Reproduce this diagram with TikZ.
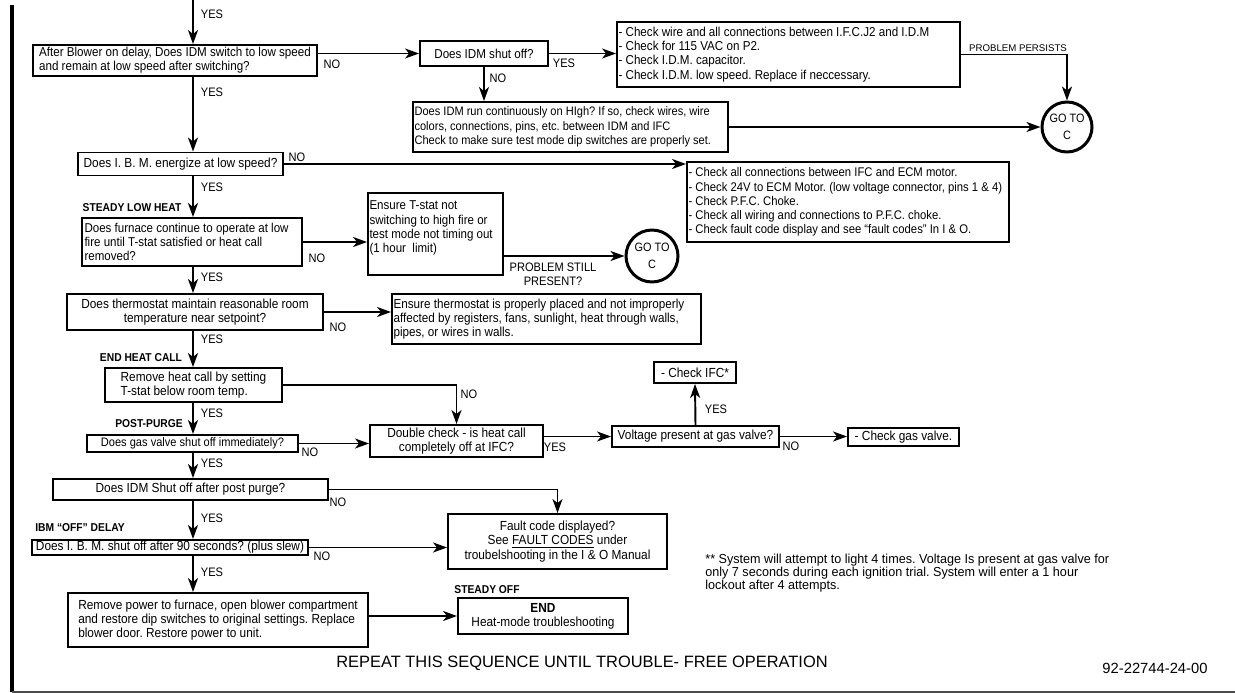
\documentclass[tikz,border=0pt]{standalone}
\usepackage{fontspec}
\setmainfont{Liberation Sans}[FakeStretch=0.9]
\newfontfamily\widesans{Liberation Sans}
\newfontfamily\notesans{Liberation Sans}[FakeStretch=0.97]
\usetikzlibrary{arrows.meta}
\newcommand\qfont{\fontsize{7.5}{8.1}\selectfont}
\newcommand\qsize[1]{\fontsize{#1}{8.1}\selectfont}

\begin{document}
\frenchspacing
\begin{tikzpicture}[
    x=0.02cm, y=-0.02cm,
    >={Stealth[length=0.28cm, width=0.2cm, inset=0.08cm]},
    qbox/.style={draw, line width=1.1pt, inner xsep=0.03cm, inner ysep=0.5pt, font=\qfont},
    gotoc/.style={draw, circle, line width=1.7pt, inner sep=0pt, align=center,
        font=\fontsize{6.9}{10}\selectfont},
    lbl/.style={inner sep=0pt, font=\qsize{7.0}},
    stage/.style={inner sep=0pt, font=\fontsize{6.5}{7}\selectfont\bfseries},
    flow/.style={->, line width=1.1pt}
]
    \useasboundingbox (0,0) rectangle (1235,693);

    % --- Frame ---
    \draw[line width=1.9pt] (12,5) -- (12,692);
    \draw[line width=0.9pt, black!70] (12,692) -- (1235,692);
    \coordinate (spine) at (193,0);

    % --- Blower / IDM checks ---
    \node[qbox, font=\qsize{7.35}, minimum width=5.68cm, minimum height=0.62cm, align=left] (blower) at (175,60.5)
        {After Blower on delay, Does IDM switch to low speed\\and remain at low speed after switching?};
    \node[qbox, font=\qsize{7.35}, minimum width=2.56cm, minimum height=0.5cm, align=left] (shutoff) at (484,53.5) {Does IDM shut off?};
    \node[qbox, font=\qsize{7.35}, minimum width=6.86cm, text width=6.8cm, minimum height=1.3cm, align=flush left] (wirechk) at (788.5,54.5)
        {- Check wire and all connections between I.F.C.J2 and I.D.M\\
         - Check for 115 VAC on P2.\\
         - Check I.D.M. capacitor.\\
         - Check I.D.M. low speed. Replace if neccessary.};
    \node[qbox, font=\qsize{7.0}, minimum width=6.3cm, text width=6.24cm, minimum height=1.0cm, align=flush left] (runhigh) at (570.5,127)
        {Does IDM run continuously on HIgh? If so, check wires, wire\\
         colors, connections, pins, etc. between IDM and IFC\\
         Check to make sure test mode dip switches are properly set.};
    \node[gotoc, minimum size=1.0cm] (gotoA) at (1067,127) {GO TO\\C};

    % --- IBM low speed ---
    \node[qbox, minimum width=4.1cm, minimum height=0.46cm, align=left] (ibmlow) at (180.5,164)
        {Does I. B. M. energize at low speed?};
    \node[qbox, font=\qsize{7.15}, minimum width=6.44cm, text width=6.38cm, minimum height=1.6cm, align=flush left] (ecmchk) at (848,202)
        {- Check all connections between IFC and ECM motor.\\
         - Check 24V to ECM Motor. (low voltage connector, pins 1 \& 4)\\
         - Check P.F.C. Choke.\\
         - Check all wiring and connections to P.F.C. choke.\\
         - Check fault code display and see “fault codes” In I \& O.};

    % --- Steady low heat ---
    \node[stage] (lowheat) at (132,208) {STEADY LOW HEAT};
    \node[qbox, font=\qsize{7.3}, minimum width=4.4cm, text width=4.3cm, minimum height=0.96cm, align=flush left] (lowfire) at (192,242)
        {Does furnace continue to operate at low\\fire until T-stat satisfied or heat call\\removed?};
    \node[qbox, font=\qsize{7.3}, minimum width=2.7cm, text width=2.64cm, minimum height=1.64cm, align=flush left] (tstat) at (435.5,234)
        {Ensure T-stat not\\switching to high fire or\\test mode not timing out\\(1 hour~ limit)\\~};
    \node[gotoc, minimum size=1.04cm] (gotoB) at (652,256) {GO TO\\C};
    \node[qbox, minimum width=5.12cm, minimum height=0.72cm, align=center] (thermo) at (195,312)
        {Does thermostat maintain reasonable room\\temperature near setpoint?};
    \node[qbox, font=\qsize{7.4}, minimum width=6.18cm, text width=6.12cm, minimum height=1.0cm, align=flush left] (placed) at (546.5,319)
        {Ensure thermostat is properly placed and not improperly\\
         affected by registers, fans, sunlight, heat through walls,\\
         pipes, or wires in walls.};

    % --- End heat call / post-purge ---
    \node[stage] (endcall) at (141,358) {END HEAT CALL};
    \node[qbox, minimum width=3.54cm, minimum height=0.68cm, align=left] (removecall) at (193.5,385)
        {Remove heat call by setting\\T-stat below room temp.};
    \node[stage] (purge) at (149,424) {POST-PURGE};
    \node[qbox, font=\qsize{7.0}, minimum width=4.22cm, minimum height=0.34cm] (gasoff) at (192.5,443.5)
        {Does gas valve shut off immediately?};
    \node[qbox, minimum width=3.46cm, minimum height=0.64cm, align=center] (dblchk) at (456.5,441)
        {Double check - is heat call\\completely off at IFC?};
    \node[qbox, minimum width=3.34cm, minimum height=0.42cm] (voltage) at (695.5,436.5) {Voltage present at gas valve?};
    \node[qbox, minimum width=1.64cm, minimum height=0.42cm] (chkifc) at (695,372.5) {- Check IFC*};
    \node[qbox, minimum width=2.22cm, minimum height=0.36cm] (chkgas) at (903.5,437) {- Check gas valve.};
    \node[qbox, minimum width=5.5cm, minimum height=0.42cm] (idmoff) at (190.5,489.5)
        {Does IDM Shut off after post purge?};
    \node[qbox, minimum width=4.38cm, minimum height=1.1cm, align=center] (fault) at (557.5,541.5)
        {Fault code displayed?\\See \underline{FAULT CODES} under\\troubelshooting in the I \& O Manual};

    % --- IBM off delay / steady off ---
    \node[stage] (offdelay) at (80,528) {IBM “OFF” DELAY};
    \node[qbox, minimum width=5.52cm, minimum height=0.3cm] (ibm90) at (170,547.5)
        {Does I. B. M. shut off after 90 seconds? (plus slew)};
    \node[qbox, minimum width=6.0cm, minimum height=1.08cm, align=left] (restore) at (218,620)
        {Remove power to furnace, open blower compartment\\
         and restore dip switches to original settings. Replace\\
         blower door. Restore power to unit.};
    \node[stage] (steadyoff) at (487,590) {STEADY OFF};
    \node[qbox, minimum width=3.4cm, minimum height=0.72cm, align=center] (endbox) at (543,616)
        {\textbf{END}\\Heat-mode troubleshooting};

    % --- Notes ---
    \node[inner sep=0pt, anchor=west, align=left, font=\notesans\fontsize{7.4}{7.6}\selectfont] (note) at (705,573)
        {** System will attempt to light 4 times. Voltage Is present at gas valve for\\
         only 7 seconds during each ignition trial. System will enter a 1 hour\\
         lockout after 4 attempts.};
    \node[inner sep=0pt, font=\widesans\fontsize{9.35}{10}\selectfont] (repeatnote) at (582,663)
        {REPEAT THIS SEQUENCE UNTIL TROUBLE- FREE OPERATION};
    \node[inner sep=0pt, font=\widesans\fontsize{8.4}{10}\selectfont] (docnum) at (1155,668) {92-22744-24-00};

    % --- Main spine (YES path) ---
    \draw[flow] (spine) -- (spine |- blower.north);
    \draw[flow] (blower.south -| spine) -- (ibmlow.north -| spine);
    \draw[flow] (ibmlow.south -| spine) -- (lowfire.north -| spine);
    \draw[flow] (lowfire.south -| spine) -- (thermo.north -| spine);
    \draw[flow] (thermo.south -| spine) -- (removecall.north -| spine);
    \draw[flow] (removecall.south -| spine) -- (gasoff.north -| spine);
    \draw[flow] (gasoff.south -| spine) -- (idmoff.north -| spine);
    \draw[flow] (idmoff.south -| spine) -- (ibm90.north -| spine);
    \draw[flow] (ibm90.south -| spine) -- (restore.north -| spine);
    \foreach \yy in {14,92,187,277,339,413,463,518,572}
        \node[lbl] at (212,\yy) {YES};

    % --- Side branches ---
    \draw[flow] (blower.east |- shutoff.west) -- (shutoff.west);
    \draw[flow] (shutoff.east) -- (shutoff.east -| wirechk.west);
    \draw[flow] (wirechk.east) -| (gotoA.north);
    \draw[flow] (shutoff.south) -- (shutoff.south |- runhigh.north);
    \draw[flow] (runhigh.east) -- (runhigh.east -| gotoA.west);
    \draw[flow] (ibmlow.east) -- (ibmlow.east -| ecmchk.west);
    \draw[flow] (lowfire.east) -- (lowfire.east -| tstat.west);
    \draw[flow] (tstat.east |- gotoB.west) -- (gotoB.west);
    \draw[flow] (thermo.east) -- (thermo.east -| placed.west);
    \draw[flow] (removecall.east) -| (dblchk.north);
    \draw[flow] (gasoff.east) -- (gasoff.east -| dblchk.west);
    \draw[flow] (dblchk.east |- voltage.west) -- (voltage.west);
    \draw[flow] (voltage.north) -- (chkifc.south);
    \draw[flow] (voltage.east) -- (voltage.east -| chkgas.west);
    \draw[flow] (idmoff.east) -| (fault.north);
    \draw[flow] (ibm90.east) -- (ibm90.east -| fault.west);
    \draw[flow] (restore.east |- endbox.west) -- (endbox.west);

    % branch labels
    \node[lbl] (no1) at (332,64) {NO};
    \node[lbl] (yes2) at (564,63) {YES};
    \node[lbl] (no2) at (498,78) {NO};
    \node[inner sep=0pt, font=\widesans\fontsize{5.5}{6}\selectfont] (persist) at (1018,48) {PROBLEM PERSISTS};
    \node[lbl] (no3) at (297,157) {NO};
    \node[lbl] (no4) at (317,258) {NO};
    \node[lbl, align=center] (still) at (553,274) {PROBLEM STILL\\PRESENT?};
    \node[lbl] (no5) at (338,327) {NO};
    \node[lbl] (no6) at (469,394) {NO};
    \node[lbl] (no7) at (310,452) {NO};
    \node[lbl] (yes3) at (555,447) {YES};
    \node[lbl] (yes4) at (716,409) {YES};
    \node[lbl] (no8) at (791,446) {NO};
    \node[lbl] (no9) at (338,502) {NO};
    \node[lbl] (no10) at (322,556) {NO};

\end{tikzpicture}
\end{document}
